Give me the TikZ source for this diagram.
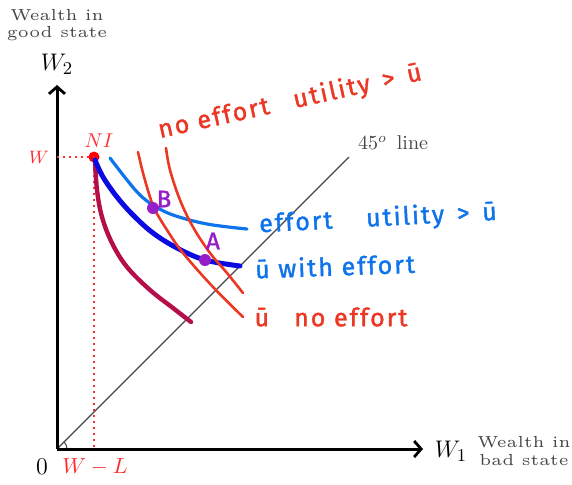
\documentclass[tikz,border=0pt]{standalone}
\usepackage{fontspec}
\newfontfamily\hand{Fira Sans}[LetterSpace=8, FakeBold=1.5]
\usetikzlibrary{arrows.meta}
\definecolor{hred}{RGB}{235,55,35}
\definecolor{hblue}{RGB}{15,115,235}
\definecolor{dblue}{RGB}{10,10,225}
\definecolor{crim}{RGB}{180,15,75}
\definecolor{purp}{RGB}{150,30,200}
\definecolor{lred}{RGB}{255,45,45}
\definecolor{tgray}{RGB}{70,70,70}
\begin{document}
\begin{tikzpicture}[x=0.5pt,y=-0.5pt,
  axis/.style={line width=1.5pt,-{Straight Barb[length=3.5pt,width=8pt,line width=1.4pt]}},
  handtext/.style={font=\hand\fontsize{12.5}{15}\selectfont, inner sep=0pt},
  smalltext/.style={text=tgray, scale=1.6, align=center, inner sep=0pt, font=\fontsize{5}{5.4}\selectfont},
  guide/.style={lred, line width=1pt, dotted},
  dot/.style={circle, fill=#1, inner sep=0pt, minimum size=6pt}]
\useasboundingbox (0,0) rectangle (572,484);
% axes
\coordinate (O) at (57,449);
\coordinate (ytip) at (57,85);
\coordinate (xtip) at (423,449);
\draw[tgray, line width=0.6pt] (O) -- (349,157) coordinate (diagend);
\draw[tgray, line width=0.5pt] ([shift={(10,0)}]O) arc[start angle=0, end angle=-45, radius=10];
\draw[axis] (O) -- (ytip);
\draw[axis] (O) -- (xtip);
% labels of axes
\node[smalltext] (wg) at (57,25) {Wealth in\\good state};
\node[font=\fontsize{13}{15}\selectfont, inner sep=0pt] (w2) at (57,64) {$W_2$};
\node[font=\fontsize{13}{15}\selectfont, inner sep=0pt] (w1) at (451,451) {$W_1$};
\node[smalltext] (wb) at (524,451) {Wealth in\\bad state};
\node[font=\large, inner sep=0pt] (zero) at (42,467) {0};
\node[text=lred, font=\fontsize{10.5}{12}\selectfont, inner sep=0pt] (wl) at (95,467) {$W-L$};
\node[text=lred, font=\small, inner sep=0pt] (wlab) at (39,157) {$W$};
\node[text=tgray, inner sep=0pt] (l45) at (393,143) {$45^o$\, line};
% NI point
\node[dot=red, minimum size=5.5pt] (NI) at (94,157) {};
\node[text=lred, inner sep=0pt] (nilab) at (99,141) {$NI$};
\coordinate (NIy) at (57,157);
\coordinate (NIx) at (94,449);
\draw[guide] (NIy) -- (NI.center);
\draw[guide] (NI.center) -- (NIx);
% curves
\draw[crim, line width=2.2pt, line cap=round] plot[smooth, tension=0.6] coordinates {(95,160) (97,190) (102,217) (112,243) (127,267) (150,290) (173,308) (191,322)};
\draw[dblue, line width=2.5pt, line cap=round] plot[smooth, tension=0.6] coordinates {(95,160) (103,177) (117,197) (133,215) (153,233) (177,248) (205,260) (240,266)};
\draw[hblue, line width=1.6pt, line cap=round] plot[smooth, tension=0.6] coordinates {(110,158) (127,180) (140,195) (153,205) (173,215) (207,224) (247,229)};
\draw[hred, line width=1.3pt, line cap=round] plot[smooth, tension=0.6] coordinates {(138,152) (143,173) (150,197) (155,210) (167,230) (183,253) (213,287) (243,317)};
\draw[hred, line width=1.3pt, line cap=round] plot[smooth, tension=0.6] coordinates {(166,148) (170,170) (180,200) (193,227) (210,253) (227,273) (243,293)};
% points A and B
\node[dot=purp] (B) at (153,208) {};
\node[dot=purp] (A) at (205,260) {};
\node[text=purp, font=\hand\fontsize{12}{14}\selectfont, inner sep=0pt] (Blab) at (164,199) {B};
\node[text=purp, font=\hand\fontsize{12}{14}\selectfont, inner sep=0pt] (Alab) at (213,241) {A};
% handwritten labels
\node[handtext, text=hred, rotate=12.5] (t1) at (290,102) {no effort\quad utility \,>\, \=u};
\node[handtext, text=hblue, rotate=3] (t2) at (378,219) {effort\quad\ utility \,>\, \=u};
\node[handtext, text=hblue, rotate=2] (t3) at (335,266) {\=u with effort};
\node[handtext, text=hred] (t4) at (331,317) {\=u\quad no effort};
\end{tikzpicture}
\end{document}
